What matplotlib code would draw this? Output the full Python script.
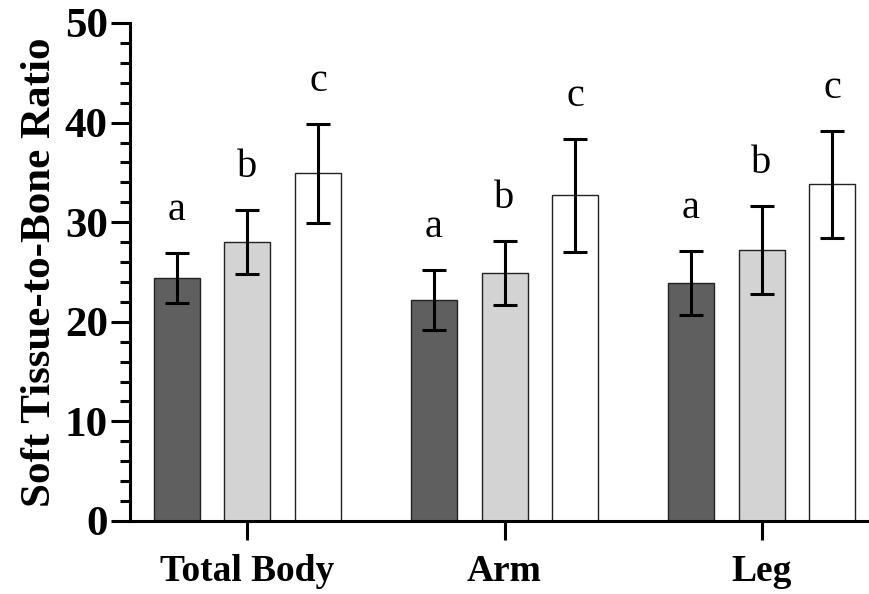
import matplotlib
matplotlib.use("Agg")
import matplotlib.pyplot as plt
import numpy as np
from matplotlib.ticker import MultipleLocator

plt.rcParams['font.family'] = ['Liberation Serif', 'DejaVu Serif']

# data
regions = ['Total Body', 'Arm', 'Leg']
group_letters = ['a', 'b', 'c']
group_colors = ['#5f5f5f', '#d3d3d3', '#ffffff']
means = [
    [24.4, 22.2, 23.9],
    [28.0, 24.9, 27.2],
    [34.9, 32.7, 33.8],
]
sds = [
    [2.5, 3.05, 3.2],
    [3.2, 3.2, 4.45],
    [5.0, 5.65, 5.35],
]

fig = plt.figure(figsize=(8.69, 5.94), dpi=100)
ax = fig.add_axes([0.1496, 0.1229, 0.8504, 0.8384])

x = np.arange(len(regions))
step = 0.275
width = 0.179

for i in range(len(group_letters)):
    pos = x + (i - 1) * step
    ax.bar(pos, means[i], width, color=group_colors[i], edgecolor='#222222',
           linewidth=1.0, zorder=2)
    ax.errorbar(pos, means[i], yerr=sds[i], fmt='none', ecolor='black',
                elinewidth=2.2, capsize=8.5, capthick=2.2, zorder=3)
    for p, m, s in zip(pos, means[i], sds[i]):
        ax.text(p, m + s + 3.3, group_letters[i], ha='center', va='baseline',
                fontsize=29)

ax.set_xlim(-0.457, 2.418)
ax.set_ylim(0, 50)
ax.spines['top'].set_visible(False)
ax.spines['right'].set_visible(False)
ax.spines['left'].set_linewidth(2.2)
ax.spines['bottom'].set_linewidth(2.2)

ax.yaxis.set_major_locator(MultipleLocator(10))
ax.yaxis.set_minor_locator(MultipleLocator(2))
ax.tick_params(axis='y', which='major', length=14, width=2.2, labelsize=31, pad=2)
ax.tick_params(axis='y', which='minor', length=7, width=2.2)
ax.tick_params(axis='x', which='major', length=14, width=2.2, labelsize=27, pad=10)
for lab in ax.get_yticklabels():
    lab.set_fontweight('bold')

ax.set_xticks(x)
ax.set_xticklabels(regions, fontweight='bold')
ax.set_ylabel('Soft Tissue-to-Bone Ratio', fontsize=31, fontweight='bold', labelpad=4)

fig.savefig('out.png', dpi=100)
